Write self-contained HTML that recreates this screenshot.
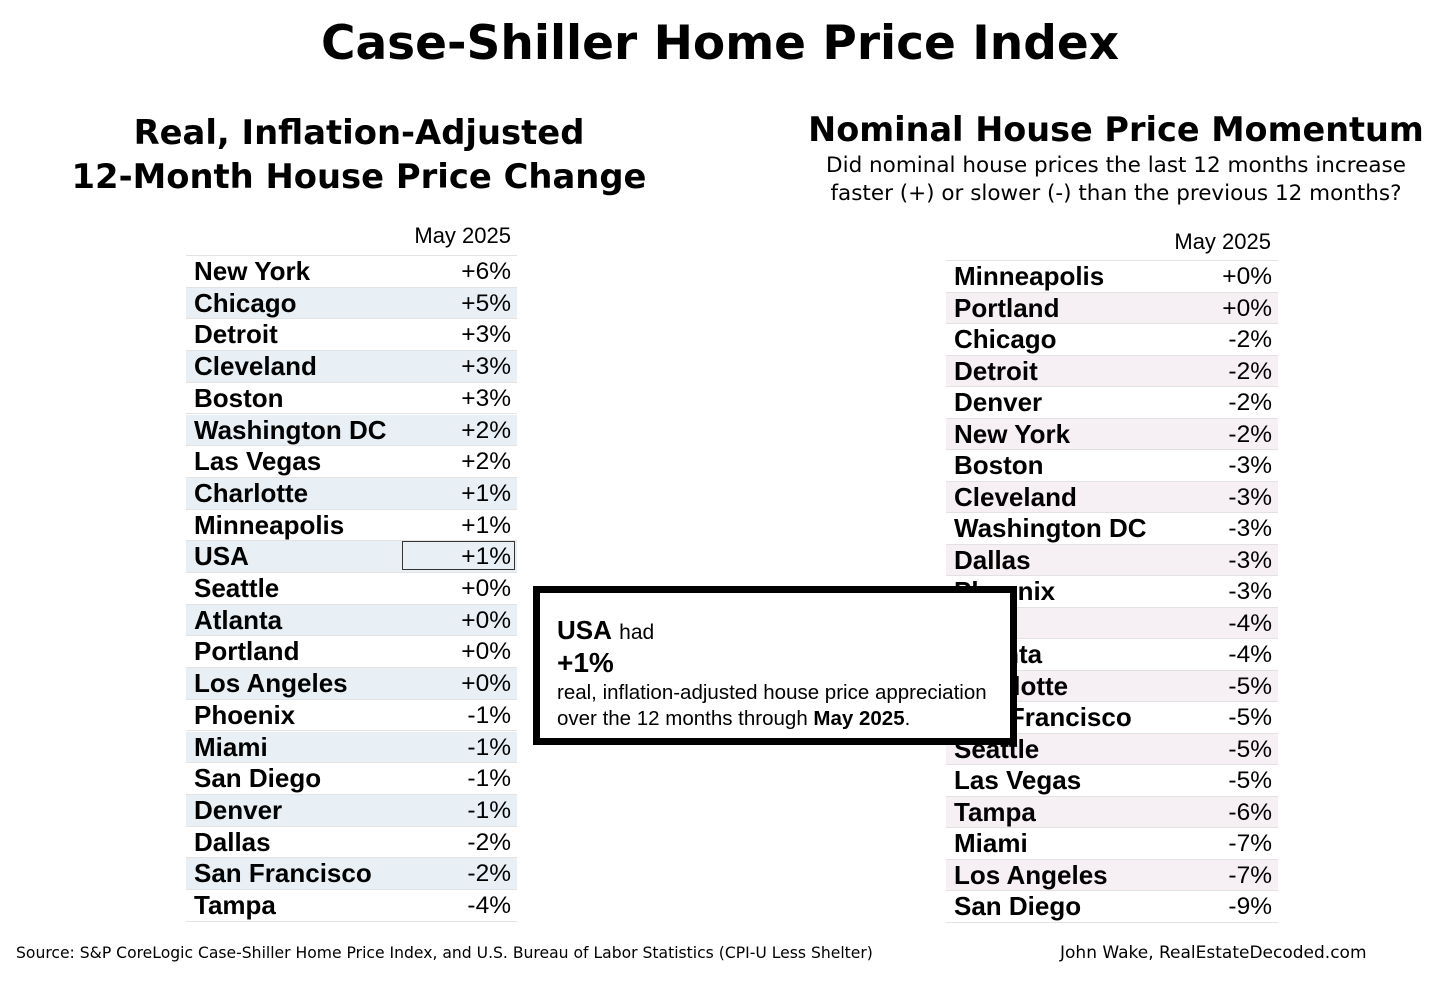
<!DOCTYPE html>
<html><head><meta charset="utf-8">
<style>
body{margin:0;width:1456px;height:984px;background:#fff;position:relative;overflow:hidden;font-family:"Liberation Sans",sans-serif;color:#000}
.abs{position:absolute}
.t{font-family:"DejaVu Sans",sans-serif;font-weight:bold;text-align:center;white-space:nowrap}
.row{position:absolute;height:31.7px;border-bottom:1px solid #e2e2e2;box-sizing:border-box;font-size:26px;line-height:31px}
.row .c{position:absolute;left:8px;font-weight:bold}
.row .v{position:absolute;right:6px;font-size:24.5px}
.hdr{position:absolute;font-size:22px;text-align:right}
</style></head><body>
<div class="abs t" style="left:0;width:1440px;top:16px;font-size:47px">Case-Shiller Home Price Index</div>
<div class="abs t" style="left:59px;width:600px;top:111px;font-size:33.8px;line-height:44px">Real, Inflation-Adjusted<br>12-Month House Price Change</div>
<div class="abs t" style="left:800px;width:632px;top:110px;font-size:33.5px">Nominal House Price Momentum</div>
<div class="abs" style="left:800px;width:632px;top:152px;font-family:'DejaVu Sans',sans-serif;font-size:21.5px;line-height:28px;text-align:center">Did nominal house prices the last 12 months increase<br>faster (+) or slower (-) than the previous 12 months?</div>
<div class="hdr" style="left:300px;width:211px;top:223px">May 2025</div>
<div class="hdr" style="left:1060px;width:211px;top:229px">May 2025</div>
<div id="lt" class="abs" style="left:186px;top:255px;width:331px;border-top:1px solid #e2e2e2"></div>
<div id="rt" class="abs" style="left:946px;top:260px;width:332px;border-top:1px solid #e2e2e2"></div>
<div class="abs" style="left:402px;top:541px;width:113px;height:29px;border:1px solid #333;box-sizing:border-box"></div>
<div class="abs" style="left:533px;top:586px;width:484px;height:159px;border:7px solid #000;box-sizing:border-box;background:#fff">
<div class="abs" style="left:17px;top:22px;font-size:26px;white-space:nowrap"><b>USA</b> <span style="font-size:21px">had</span></div>
<div class="abs" style="left:17px;top:54px;font-size:28px;font-weight:bold">+1%</div>
<div class="abs" style="left:17px;top:87px;font-size:20.5px;line-height:26px;white-space:nowrap">real, inflation-adjusted house price appreciation<br>over the 12 months through <b>May 2025</b>.</div>
</div>
<div class="abs" style="left:16px;top:944px;font-family:'DejaVu Sans',sans-serif;font-size:15.6px;white-space:nowrap">Source: S&amp;P CoreLogic Case-Shiller Home Price Index, and U.S. Bureau of Labor Statistics (CPI-U Less Shelter)</div>
<div class="abs" style="left:1060px;top:943px;font-family:'DejaVu Sans',sans-serif;font-size:17px;white-space:nowrap">John Wake, RealEstateDecoded.com</div>
<script>
const leftCities=["New York","Chicago","Detroit","Cleveland","Boston","Washington DC","Las Vegas","Charlotte","Minneapolis","USA","Seattle","Atlanta","Portland","Los Angeles","Phoenix","Miami","San Diego","Denver","Dallas","San Francisco","Tampa"];
const leftValues=[6,5,3,3,3,2,2,1,1,1,0,0,0,0,-1,-1,-1,-1,-2,-2,-4];
const rightCities=["Minneapolis","Portland","Chicago","Detroit","Denver","New York","Boston","Cleveland","Washington DC","Dallas","Phoenix","USA","Atlanta","Charlotte","San Francisco","Seattle","Las Vegas","Tampa","Miami","Los Angeles","San Diego"];
const rightValues=[0,0,-2,-2,-2,-2,-3,-3,-3,-3,-3,-4,-4,-5,-5,-5,-5,-6,-7,-7,-9];
function fmt(v){return (v>=0?"+":"")+v+"%";}
function build(id,cities,vals,stripe,h){
  const t=document.getElementById(id);
  cities.forEach((c,i)=>{
    const r=document.createElement('div');
    
    
    r.className='row';
    r.style.top=(i*h)+'px';r.style.width='100%';r.style.height=h+'px';
    r.style.background=i%2?stripe:'#fff';
    r.innerHTML='<span class="c">'+c+'</span><span class="v">'+fmt(vals[i])+'</span>';
    t.appendChild(r);
  });
}
build('lt',leftCities,leftValues,'#e8f0f5',31.7);
build('rt',rightCities,rightValues,'#f6eff4',31.5);
</script>
</body></html>
